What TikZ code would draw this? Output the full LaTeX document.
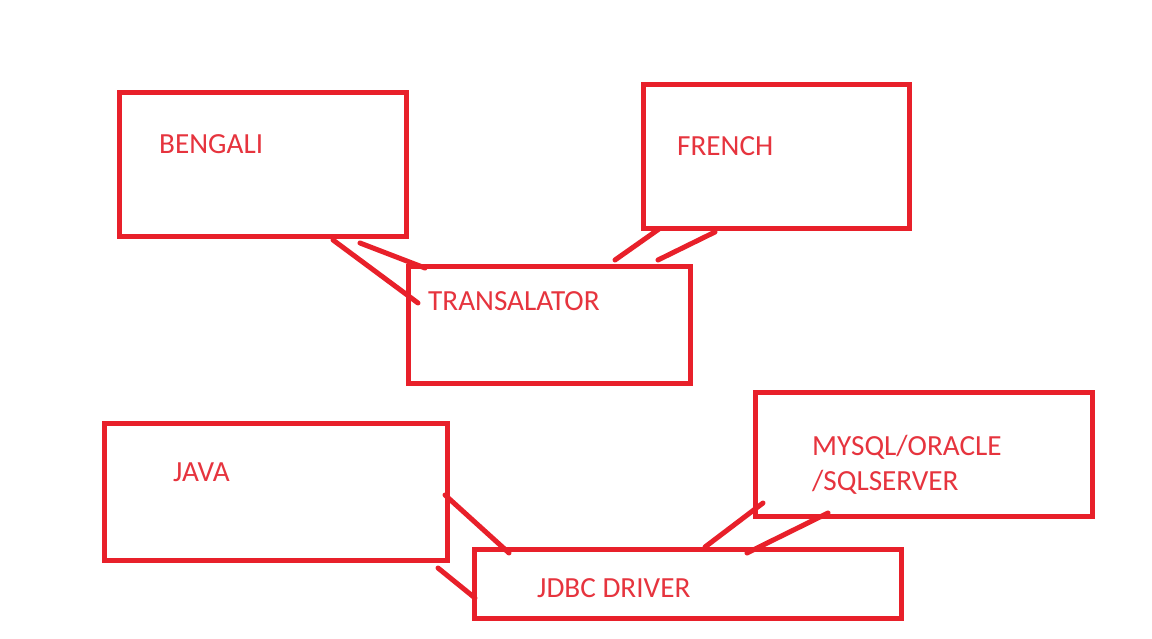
\documentclass[tikz,border=0pt]{standalone}
\usepackage{fontspec}
\setmainfont{Carlito}
\definecolor{boxred}{RGB}{232,32,42}
\definecolor{txtred}{RGB}{230,52,62}
\tikzset{
  box/.style={draw=boxred, line width=5pt, rectangle, inner sep=0pt, fill=none},
  lbl/.style={anchor=base west, inner sep=0pt, text=txtred, font=\fontsize{29.2}{36}\selectfont},
  link/.style={draw=boxred, line width=5pt, line cap=round}
}
\begin{document}
\begin{tikzpicture}[x=1pt,y=-1pt]
\useasboundingbox[fill=white] (0,0) rectangle (1152,639);
% boxes (centre, width, height from edge centre lines)
\node[box, minimum width=287pt, minimum height=144pt] (bengali) at (262.5,165) {};
\node[box, minimum width=266pt, minimum height=144pt] (french) at (776,157) {};
\node[box, minimum width=282pt, minimum height=116pt] (trans) at (549,325) {};
\node[box, minimum width=343pt, minimum height=137pt] (java) at (275.5,491.5) {};
\node[box, minimum width=337pt, minimum height=124pt] (mysql) at (923.5,454) {};
\node[box, minimum width=427pt, minimum height=69pt] (jdbc) at (687.5,583.5) {};
% labels
\node[lbl] (tbengali) at (159,154) {BENGALI};
\node[lbl] (tfrench) at (677,156) {FRENCH};
\node[lbl] (ttrans) at (428,310) {TRANSALATOR};
\node[lbl] (tjava) at (173,481) {JAVA};
\node[lbl] (tmysqlA) at (812,455) {MYSQL/ORACLE};
\node[lbl] (tmysqlB) at (812,490) {/SQLSERVER};
\node[lbl] (tjdbc) at (537,597) {JDBC DRIVER};
% connector end points
\coordinate (c1a) at (333,240); \coordinate (c1b) at (418,303);
\coordinate (c2a) at (360,243); \coordinate (c2b) at (425,268);
\coordinate (c3a) at (659,229); \coordinate (c3b) at (615,260);
\coordinate (c4a) at (715,232); \coordinate (c4b) at (658,260);
\coordinate (c5a) at (445,495); \coordinate (c5b) at (509,553);
\coordinate (c6a) at (438,568); \coordinate (c6b) at (475,598);
\coordinate (c7a) at (763,503); \coordinate (c7b) at (705,547);
\coordinate (c8a) at (828,513); \coordinate (c8b) at (747,553);
% connectors
\draw[link] (c1a) -- (c1b);
\draw[link] (c2a) -- (c2b);
\draw[link] (c3a) -- (c3b);
\draw[link] (c4a) -- (c4b);
\draw[link] (c5a) -- (c5b);
\draw[link] (c6a) -- (c6b);
\draw[link] (c7a) -- (c7b);
\draw[link] (c8a) -- (c8b);
\end{tikzpicture}
\end{document}
